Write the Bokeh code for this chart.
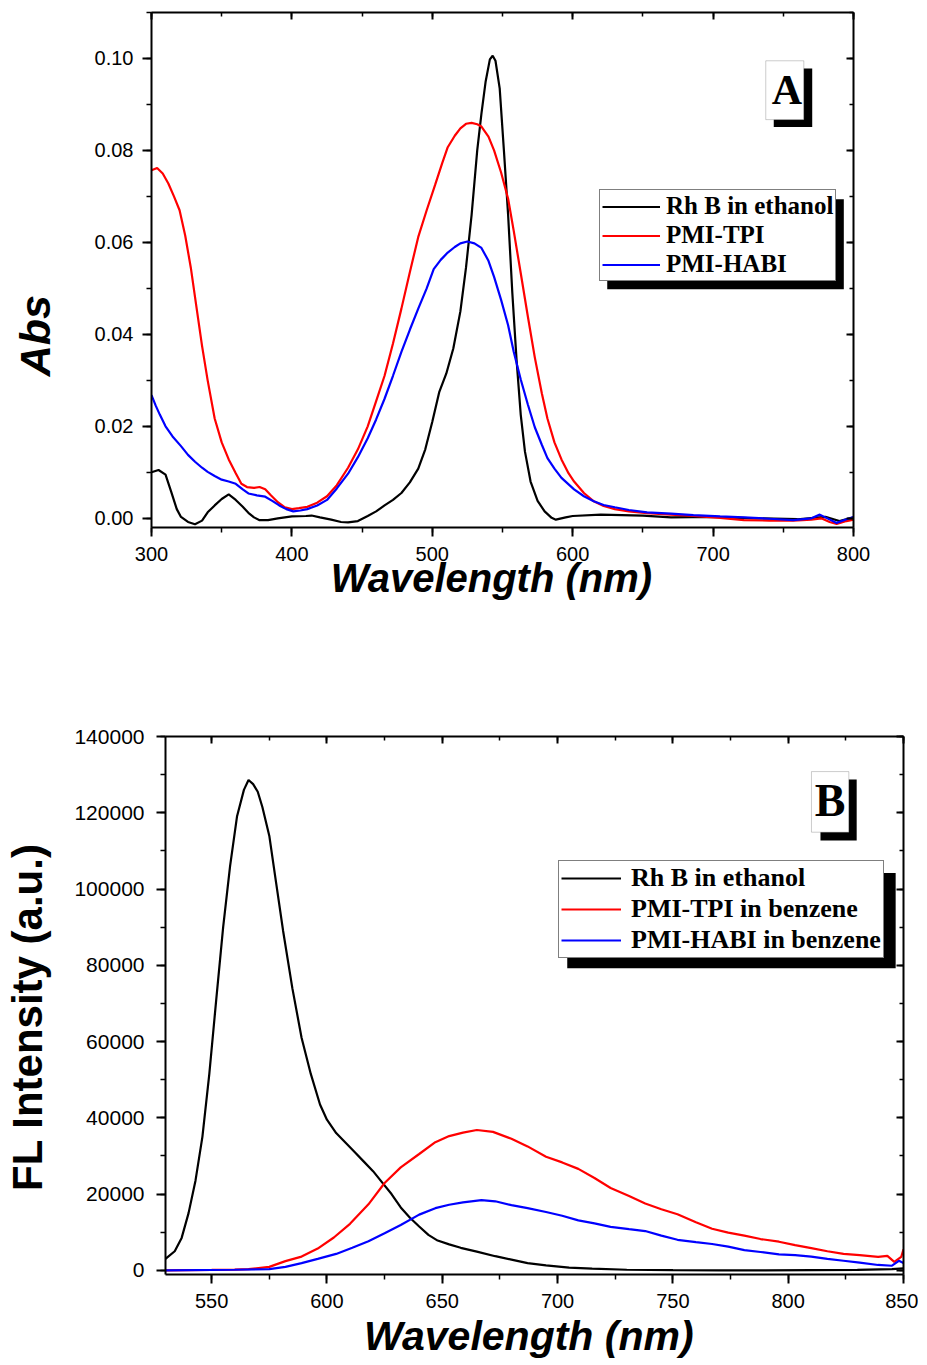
from bokeh.plotting import figure
from bokeh.models import (Range1d, LinearAxis, FixedTicker, PrintfTickFormatter,
                          Legend, LegendItem, BoxAnnotation, Label)
from bokeh.layouts import column, row
from bokeh.embed import file_html
from bokeh.resources import INLINE

# ---------------- Panel A: absorption ----------------
a_rhb_nm = [300, 305, 310, 314, 318, 321, 326, 331, 336, 340, 345, 350, 355, 360, 365, 369,
            373, 377, 383, 390, 400, 410, 414, 420, 428, 435, 440, 447, 454, 460, 466, 472,
            478, 484, 490, 495, 500, 505, 510, 515, 520, 524, 528, 532, 535, 538, 541, 543,
            545, 548, 551, 554, 557, 560, 563, 566, 570, 575, 580, 585, 588, 595, 600, 620,
            650, 670, 700, 730, 760, 780, 790, 800]
a_rhb_abs = [0.0100, 0.0105, 0.0095, 0.0058, 0.0020, 0.0003, -0.0008, -0.0013, -0.0005, 0.0013,
             0.0028, 0.0042, 0.0052, 0.0040, 0.0025, 0.0012, 0.0002, -0.0004, -0.0004, 0.0000,
             0.0004, 0.0005, 0.0006, 0.0002, -0.0003, -0.0008, -0.0009, -0.0006, 0.0005, 0.0015,
             0.0028, 0.0040, 0.0055, 0.0078, 0.0108, 0.0150, 0.0210, 0.0275, 0.0315, 0.0370,
             0.0450, 0.0545, 0.0660, 0.0800, 0.0880, 0.0950, 0.0998, 0.1006, 0.0995, 0.0935,
             0.0800, 0.0660, 0.0490, 0.0345, 0.0225, 0.0145, 0.0080, 0.0038, 0.0015, 0.0001,
             -0.0003, 0.0002, 0.0005, 0.0008, 0.0006, 0.0002, 0.0003, 0.0000, -0.0002, 0.0003,
             -0.0006, 0.0002]

a_tpi_nm = [300, 304, 308, 312, 316, 320, 324, 328, 332, 336, 340, 345, 350, 355, 360, 364, 368,
            373, 377, 381, 385, 390, 395, 400, 405, 411, 418, 425, 432, 440, 447, 454, 460, 466,
            472, 478, 484, 490, 496, 502, 507, 511, 516, 520, 524, 528, 532, 535, 540, 544, 549,
            554, 558, 563, 568, 573, 578, 582, 587, 592, 597, 601, 608, 615, 622, 630, 640, 653,
            670, 686, 705, 722, 740, 757, 770, 777, 783, 788, 795, 800]
a_tpi_abs = [0.0757, 0.0762, 0.0750, 0.0728, 0.0700, 0.0670, 0.0615, 0.0545, 0.0460, 0.0375,
             0.0300, 0.0217, 0.0165, 0.0128, 0.0098, 0.0075, 0.0068, 0.0066, 0.0068, 0.0063,
             0.0050, 0.0035, 0.0024, 0.0020, 0.0022, 0.0025, 0.0034, 0.0048, 0.0072, 0.0110,
             0.0150, 0.0200, 0.0255, 0.0310, 0.0380, 0.0456, 0.0535, 0.0612, 0.0670, 0.0725,
             0.0772, 0.0807, 0.0832, 0.0848, 0.0858, 0.0860, 0.0857, 0.0852, 0.0830, 0.0800,
             0.0752, 0.0695, 0.0625, 0.0533, 0.0440, 0.0350, 0.0272, 0.0217, 0.0165, 0.0128,
             0.0098, 0.0080, 0.0055, 0.0037, 0.0027, 0.0020, 0.0015, 0.0011, 0.0008, 0.0005,
             0.0001, -0.0004, -0.0005, -0.0005, -0.0003, 0.0000, -0.0008, -0.0012, -0.0006,
             -0.0003]

a_habi_nm = [300, 303, 306, 310, 315, 321, 326, 331, 336, 340, 345, 350, 355, 360, 365, 369, 375,
             381, 386, 391, 396, 401, 406, 411, 418, 425, 432, 440, 447, 454, 460, 466, 472, 478,
             484, 490, 496, 501, 506, 511, 516, 520, 525, 530, 535, 540, 544, 549, 554, 558, 563,
             568, 573, 578, 582, 587, 592, 601, 608, 615, 622, 630, 640, 653, 670, 686, 705, 722,
             740, 757, 770, 776, 780, 788, 795, 800]
a_habi_abs = [0.0268, 0.0245, 0.0225, 0.0200, 0.0178, 0.0157, 0.0138, 0.0123, 0.0110, 0.0101,
              0.0092, 0.0084, 0.0080, 0.0075, 0.0063, 0.0054, 0.0050, 0.0047, 0.0038, 0.0028,
              0.0020, 0.0015, 0.0017, 0.0020, 0.0028, 0.0040, 0.0065, 0.0097, 0.0133, 0.0174,
              0.0215, 0.0260, 0.0310, 0.0362, 0.0410, 0.0456, 0.0500, 0.0542, 0.0562, 0.0578,
              0.0590, 0.0598, 0.0602, 0.0598, 0.0588, 0.0560, 0.0525, 0.0475, 0.0420, 0.0362,
              0.0302, 0.0248, 0.0198, 0.0160, 0.0131, 0.0108, 0.0088, 0.0063, 0.0048, 0.0037,
              0.0029, 0.0024, 0.0018, 0.0013, 0.0010, 0.0007, 0.0004, 0.0002, -0.0001, -0.0004,
              0.0000, 0.0008, 0.0002, -0.0010, -0.0002, 0.0003]

a_labels = ["Rh B in ethanol", "PMI-TPI", "PMI-HABI"]
a_xticks = [300, 400, 500, 600, 700, 800]
a_xminor = [300, 350, 400, 450, 500, 550, 600, 650, 700, 750, 800]
a_yticks = [0.00, 0.02, 0.04, 0.06, 0.08, 0.10]
a_yminor = [0.00, 0.01, 0.02, 0.03, 0.04, 0.05, 0.06, 0.07, 0.08, 0.09, 0.10, 0.11]

# ---------------- Panel B: fluorescence ----------------
b_rhb_nm = [530, 534, 537, 540, 543, 546, 549, 552, 555, 558, 561, 564, 566, 568, 570, 572, 575,
            578, 581, 585, 589, 593, 597, 600, 604, 608, 612, 616, 620, 624, 628, 632, 636, 640,
            644, 648, 653, 658, 665, 673, 680, 687, 695, 705, 715, 730, 750, 770, 790, 810, 830,
            845, 850]
b_rhb_int = [3000, 5000, 8500, 15000, 23500, 35000, 51500, 71000, 90000, 106000, 119000, 126000,
             128600, 127500, 125500, 121500, 114000, 101500, 89000, 74000, 61000, 51500, 43500,
             39500, 36000, 33500, 31000, 28500, 26000, 23000, 20000, 16500, 13800, 11500, 9300,
             7800, 6800, 5900, 4900, 3700, 2800, 1900, 1300, 700, 450, 150, 50, 0, 0, 50, 100,
             300, 500]

b_tpi_nm = [530, 550, 560, 566, 575, 582, 589, 596, 603, 610, 618, 625, 632, 640, 647, 653, 659,
            665, 672, 680, 687, 695, 702, 709, 716, 723, 731, 738, 745, 752, 760, 767, 774, 781,
            788, 796, 803, 810, 817, 824, 831, 839, 843, 846, 849, 850]
b_tpi_int = [0, 100, 200, 300, 900, 2400, 3600, 5700, 8600, 12200, 17300, 22900, 27000, 30500,
             33600, 35200, 36100, 36800, 36300, 34500, 32500, 29800, 28300, 26600, 24200, 21600,
             19500, 17500, 16000, 14700, 12600, 10900, 9900, 9100, 8200, 7500, 6600, 5800, 5000,
             4300, 4000, 3500, 3800, 2200, 3500, 5500]

b_habi_nm = [530, 560, 575, 582, 589, 596, 604, 611, 618, 625, 632, 640, 647, 653, 659, 667, 673,
             680, 687, 695, 702, 709, 716, 723, 731, 738, 745, 752, 760, 767, 774, 781, 788, 796,
             803, 810, 817, 824, 831, 839, 845, 848, 850]
b_habi_int = [0, 150, 300, 900, 1900, 3000, 4300, 5900, 7600, 9700, 11900, 14600, 16300, 17200,
              17800, 18400, 18100, 17100, 16300, 15300, 14300, 13100, 12300, 11400, 10800, 10300,
              9100, 8000, 7400, 6900, 6200, 5300, 4800, 4200, 4000, 3600, 3000, 2500, 2000, 1400,
              1200, 2500, 1900]

b_labels = ["Rh B in ethanol", "PMI-TPI in benzene", "PMI-HABI in benzene"]
b_xticks = [550, 600, 650, 700, 750, 800, 850]
b_xminor = [550, 575, 600, 625, 650, 675, 700, 725, 750, 775, 800, 825, 850]
b_yticks = [0, 20000, 40000, 60000, 80000, 100000, 120000, 140000]
b_yminor = [0, 10000, 20000, 30000, 40000, 50000, 60000, 70000, 80000, 90000, 100000, 110000,
            120000, 130000, 140000]

COLORS = ["black", "#ff0000", "#0000ff"]
TICK_FONT = "Liberation Sans"
TITLE_FONT = "Liberation Sans"
LEG_FONT = "Liberation Serif"
NB = "\u00a0"  # non-breaking space, used to nudge a title off-centre as in the original


def style_axis(ax, ticks, minor, fmt, size, standoff, mirror=False):
    ax.ticker = FixedTicker(ticks=ticks, minor_ticks=minor)
    ax.axis_line_width = 2
    ax.axis_line_color = "black"
    ax.major_tick_line_width = 2
    ax.minor_tick_line_width = 1.5
    ax.major_tick_line_color = "black"
    ax.minor_tick_line_color = "black"
    if mirror:
        ax.major_tick_in = 7
        ax.major_tick_out = 0
        ax.minor_tick_in = 4
        ax.minor_tick_out = 0
        ax.major_label_overrides = {t: "" for t in ticks}
        ax.major_label_text_font_size = "1px"
        ax.major_label_standoff = 0
    else:
        ax.major_tick_in = 0
        ax.major_tick_out = 9
        ax.minor_tick_in = 0
        ax.minor_tick_out = 5
        ax.formatter = PrintfTickFormatter(format=fmt)
        ax.major_label_text_font = TICK_FONT
        ax.major_label_text_font_size = size
        ax.major_label_text_color = "black"
        ax.major_label_standoff = standoff


def title_style(ax, text, size, style, standoff):
    ax.axis_label = text
    ax.axis_label_text_font = TITLE_FONT
    ax.axis_label_text_font_size = size
    ax.axis_label_text_font_style = style
    ax.axis_label_text_color = "black"
    ax.axis_label_standoff = standoff


def make_panel(xr, yr, fw, fh, borders, series, xt, xm, yt, ym, xfmt, yfmt,
               xsize, ysize, xstandoff, ystandoff):
    p = figure(frame_width=fw, frame_height=fh, x_range=Range1d(*xr), y_range=Range1d(*yr),
               output_backend="svg", toolbar_location=None,
               min_border_left=borders[0], min_border_right=borders[1],
               min_border_top=borders[2], min_border_bottom=borders[3],
               x_axis_location=None, y_axis_location=None)
    p.outline_line_color = None
    p.xgrid.visible = False
    p.ygrid.visible = False
    p.background_fill_color = "white"
    p.border_fill_color = "white"

    bx = LinearAxis(); style_axis(bx, xt, xm, xfmt, xsize, xstandoff)
    ly = LinearAxis(); style_axis(ly, yt, ym, yfmt, ysize, ystandoff)
    tx = LinearAxis(); style_axis(tx, xt, xm, xfmt, "1px", 0, mirror=True)
    ry = LinearAxis(); style_axis(ry, yt, ym, yfmt, "1px", 0, mirror=True)
    p.add_layout(bx, "below")
    p.add_layout(ly, "left")
    p.add_layout(tx, "above")
    p.add_layout(ry, "right")

    rends = []
    for (xs, ys), c in zip(series, COLORS):
        rends.append(p.line(xs, ys, line_color=c, line_width=2.2))
    return p, rends, bx, ly


# ---------------- build panel A ----------------
pA, rA, bxA, lyA = make_panel((300, 800), (-0.002, 0.11), 702, 515, (151, 65, 12, 171),
                              [(a_rhb_nm, a_rhb_abs), (a_tpi_nm, a_tpi_abs),
                               (a_habi_nm, a_habi_abs)],
                              a_xticks, a_xminor, a_yticks, a_yminor, "%d", "%.2f",
                              "20px", "20px", 10, 9)
title_style(bxA, "Wavelength (nm)" + NB * 2, "40px", "bold italic", -8)
title_style(lyA, "Abs" + NB * 11, "43px", "bold italic", 33)

pA.add_layout(BoxAnnotation(left=624.6, right=793.1, top=0.0694, bottom=0.0498,
                            fill_color="black", fill_alpha=1, line_color=None))
legA = Legend(items=[LegendItem(label=l, renderers=[r]) for l, r in zip(a_labels, rA)],
              location=(448, 246), margin=0, padding=2, spacing=1,
              glyph_width=58, glyph_height=27, label_height=27, label_standoff=6,
              border_line_color="black", border_line_width=1,
              background_fill_color="white", background_fill_alpha=1,
              label_text_font=LEG_FONT, label_text_font_style="bold",
              label_text_font_size="25px", label_text_color="black")
pA.add_layout(legA, "center")
pA.add_layout(BoxAnnotation(left=743.2, right=770.6, top=0.0978, bottom=0.0851,
                            fill_color="black", fill_alpha=1, line_color=None))
pA.add_layout(BoxAnnotation(left=737.5, right=764.6, top=0.0995, bottom=0.0867,
                            fill_color="white", fill_alpha=1, line_color="#555555",
                            line_width=1))
pA.add_layout(Label(x=752.5, y=0.09325, text="A", text_align="center",
                    text_baseline="middle", text_font=LEG_FONT, text_font_style="bold",
                    text_font_size="42px", text_color="black"))

# ---------------- build panel B ----------------
pB, rB, bxB, lyB = make_panel((530, 850), (-1100, 140000), 738, 538, (165, 15, 38, 91),
                              [(b_rhb_nm, b_rhb_int), (b_tpi_nm, b_tpi_int),
                               (b_habi_nm, b_habi_int)],
                              b_xticks, b_xminor, b_yticks, b_yminor, "%d", "%d",
                              "20px", "21px", 10, 12)
title_style(bxB, "Wavelength (nm)" + NB, "41px", "bold italic", 2)
title_style(lyB, "FL Intensity (a.u.)" + NB * 2, "42px", "bold", 20)

pB.add_layout(BoxAnnotation(left=704.2, right=846.6, top=104200, bottom=79200,
                            fill_color="black", fill_alpha=1, line_color=None))
legB = Legend(items=[LegendItem(label=l, renderers=[r]) for l, r in zip(b_labels, rB)],
              location=(393, 316), margin=0, padding=2, spacing=1,
              glyph_width=60, glyph_height=28, label_height=28, label_standoff=10,
              border_line_color="black", border_line_width=1,
              background_fill_color="white", background_fill_alpha=1,
              label_text_font=LEG_FONT, label_text_font_style="bold",
              label_text_font_size="26px", label_text_color="black")
pB.add_layout(legB, "center")
pB.add_layout(BoxAnnotation(left=814.0, right=829.7, top=128700, bottom=112700,
                            fill_color="black", fill_alpha=1, line_color=None))
pB.add_layout(BoxAnnotation(left=810.1, right=826.3, top=130800, bottom=114900,
                            fill_color="white", fill_alpha=1, line_color="#555555",
                            line_width=1))
pB.add_layout(Label(x=818.2, y=123230, text="B", text_align="center",
                    text_baseline="middle", text_font=LEG_FONT, text_font_style="bold",
                    text_font_size="46px", text_color="black"))

layout = column(row(pA), row(pB), spacing=0)
open("out.html", "w").write(file_html(layout, INLINE))
